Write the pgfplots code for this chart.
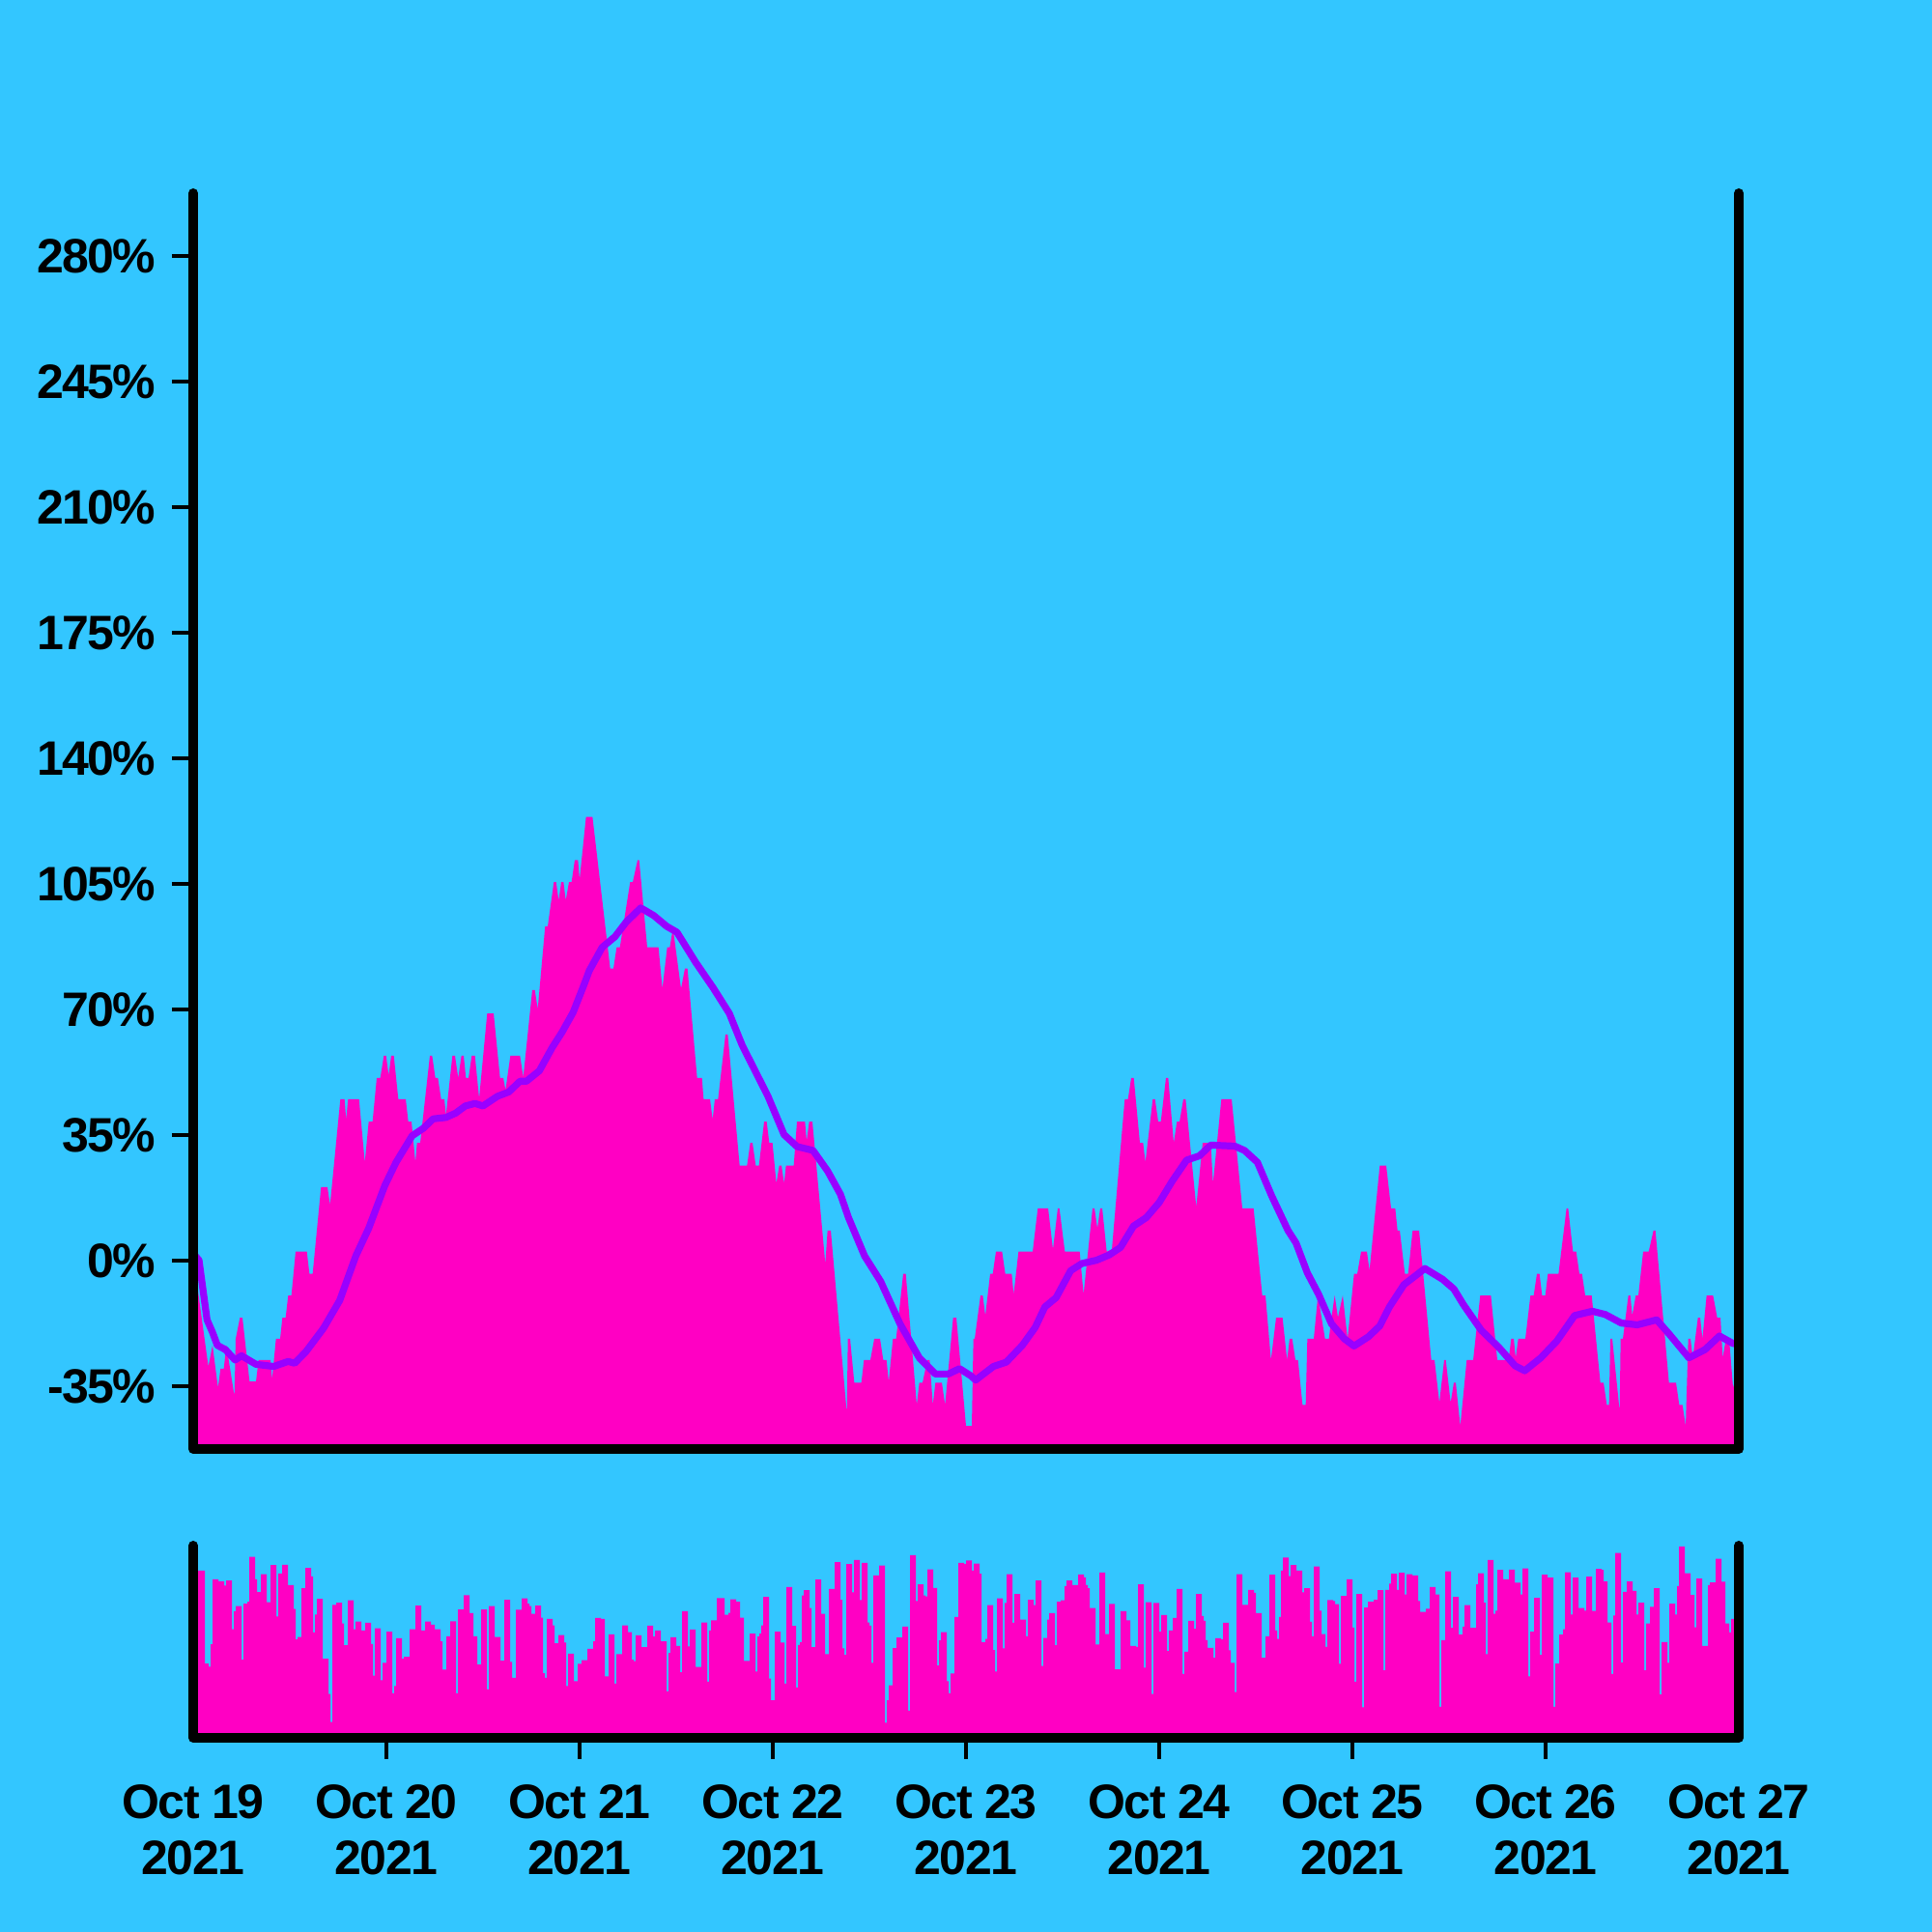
\documentclass[border=0pt]{standalone}
\usepackage{fontspec}
\setmainfont{Liberation Sans}[LetterSpace=-3]
\usepackage{pgfplots}
\pgfplotsset{compat=1.18}

\definecolor{bg}{RGB}{51,198,255}
\definecolor{mag}{RGB}{255,0,195}
\definecolor{vio}{RGB}{153,0,255}

\pgfplotsset{
  panel/.style={
    anchor=south west, scale only axis, width=400pt,
    xmin=0, xmax=192,
    axis line style={draw=none},
    clip mode=individual,
    tick align=outside,
    major tick length=5.5pt,
    tick style={line width=1pt, black},
    ticklabel style={font=\fontsize{12.5}{14.5}\selectfont\bfseries},
  },
}
\tikzset{frame/.style={line width=2.5pt, black, line cap=round, line join=round}}

\begin{document}
\begin{tikzpicture}[x=1pt,y=1pt]
\path[use as bounding box] (0,0) rectangle (500,500);
\fill[bg] (0,0) rectangle (500,500);

% price change, percent
\begin{axis}[panel, at={(50pt,125pt)}, height=325pt,
    ymin=-52.5, ymax=297.5,
    xtick=\empty, ytick pos=left,
    ytick={-35,0,35,70,105,140,175,210,245,280},
    yticklabels={-35\%,0\%,35\%,70\%,105\%,140\%,175\%,210\%,245\%,280\%},
    yticklabel style={xshift=-0.6pt}]
\addplot[fill=mag, draw=none] coordinates {
(0,-60) (0,1) (0.72,-10.5) (1.88,-29.5) (2.4,-23.6) (3.08,-35.4) (3.4,-30.1) (3.8,-30.1) (4.12,-23.6) (5.12,-37.8) (5.28,-21.8) (5.8,-15.9) (6.12,-15.9) (7.0,-33.7) (7.8,-33.7) (8.12,-27.7) (9.6,-27.7) (9.8,-33.1) (10.28,-21.8) (10.8,-21.8) (11.08,-15.9) (11.48,-15.9) (11.8,-9.7) (12.2,-9.7) (12.72,2.5) (14.12,2.5) (14.44,-3.7) (14.84,-3.7) (15.88,20.5) (16.68,20.5) (17.0,15.5) (18.28,45) (18.8,45) (19.0,39.3) (19.24,45) (20.6,45) (21.32,27.4) (21.8,38.7) (22.28,38.7) (22.8,50.9) (23.24,50.9) (23.68,57.1) (23.96,57.1) (24.28,51.7) (24.6,57.1) (24.92,57.1) (25.48,45) (26.4,45) (26.72,38.7) (27.12,38.7) (27.6,27.4) (27.8,32.8) (28.2,32.8) (29.4,57.1) (29.68,57.1) (30.08,50.9) (30.4,50.9) (30.8,45) (31.2,45) (31.4,40.5) (32.2,57.1) (32.52,57.1) (32.92,50.9) (33.32,57.1) (33.6,57.1) (33.88,50.9) (34.2,50.9) (34.6,57.1) (35.0,57.1) (35.52,45.2) (36.52,68.9) (37.32,68.9) (38.12,50.9) (38.52,50.9) (38.8,47.6) (39.4,57.1) (40.6,57.1) (41.0,51.1) (42.12,75.4) (42.44,75.4) (42.8,70.1) (43.72,93.2) (44.04,93.2) (44.8,105.5) (45.08,105.5) (45.4,100.4) (45.72,105.5) (46.0,105.5) (46.28,100.4) (46.68,105.5) (47.0,105.5) (47.4,111.6) (47.8,111.6) (48.0,106.3) (48.8,123.7) (49.6,123.7) (51.8,81.4) (52.2,81.4) (52.6,87.3) (53.0,87.3) (54.28,105.5) (54.6,105.5) (55.2,111.6) (55.4,111.6) (56.4,87.3) (57.8,87.3) (58.28,75.8) (58.88,87.3) (59.2,87.3) (59.6,92.6) (60.6,75.8) (61.08,81.4) (61.4,81.4) (62.6,50.9) (63.2,50.9) (63.4,45) (64.2,45) (64.52,39.3) (64.8,45) (65.2,45) (66.12,63) (66.4,63) (67.88,26.5) (68.8,26.5) (69.2,32.8) (69.48,32.8) (69.88,26.5) (70.28,26.5) (70.92,38.7) (71.24,38.7) (71.56,32.8) (71.96,32.8) (72.44,21.5) (72.8,26.5) (73.08,26.5) (73.4,21.5) (73.64,26.5) (74.6,26.5) (75.0,38.7) (76.0,38.7) (76.2,33.4) (76.52,38.7) (76.92,38.7) (78.52,-0.9) (78.8,8.4) (79.2,8.4) (81.2,-42.6) (81.32,-21.8) (81.6,-21.8) (82.12,-34) (83.0,-34) (83.32,-27.7) (84.12,-27.7) (84.6,-21.8) (85.32,-21.8) (85.72,-27.7) (86.12,-27.7) (86.4,-33.7) (86.92,-21.8) (87.32,-21.8) (88.2,-3.7) (88.52,-3.7) (89.88,-40.2) (90.2,-34) (90.6,-34) (91.2,-27.7) (91.48,-27.7) (91.88,-40.2) (92.2,-34) (93.0,-34) (93.4,-40.2) (94.4,-15.9) (94.8,-15.9) (96.0,-46.1) (96.72,-46.1) (96.92,-21.8) (97.08,-21.8) (97.8,-9.7) (98.08,-9.7) (98.4,-15.3) (99.0,-3.7) (99.32,-3.7) (99.72,2.5) (100.48,2.5) (100.88,-3.7) (101.68,-3.7) (101.92,-9.4) (102.52,2.5) (104.28,2.5) (104.92,14.6) (106.2,14.6) (106.8,3.1) (107.4,14.6) (107.6,14.6) (108.28,2.5) (110.12,2.5) (110.6,-9.4) (111.72,14.6) (111.96,14.6) (112.32,9.0) (112.68,14.6) (112.92,14.6) (113.48,2.5) (114.12,3.1) (115.72,45) (116.12,45) (116.52,50.9) (116.84,50.9) (117.6,32.8) (118.0,32.8) (118.28,27.4) (119.2,45) (119.48,45) (119.88,38.7) (120.2,38.7) (120.84,50.9) (121.12,50.9) (121.8,32.8) (122.2,38.7) (122.52,38.7) (123.0,45) (123.28,45) (124.6,15) (125.4,32.8) (126.4,32.8) (126.68,21.5) (127.72,45) (129.0,45) (130.32,14.6) (131.72,14.6) (132.8,-9.7) (133.2,-9.7) (133.88,-27.7) (134.52,-15.9) (135.32,-15.9) (135.88,-27.7) (136.2,-21.8) (136.52,-21.8) (136.92,-27.7) (137.24,-27.7) (137.8,-40.2) (138.2,-40.2) (138.4,-21.8) (139.2,-21.8) (139.72,-9.7) (140.6,-21.8) (141.08,-21.8) (141.4,-15.9) (141.8,-9.7) (142.2,-15.9) (142.8,-9.7) (143.4,-21.8) (144.2,-3.7) (144.6,-3.7) (145.08,2.5) (145.8,2.5) (146.12,-2.8) (147.4,26.5) (148.2,26.5) (148.8,14.6) (149.32,14.6) (149.6,8.4) (149.88,8.4) (150.52,-3.7) (150.92,-3.7) (151.48,8.4) (152.28,8.4) (153.8,-27.7) (154.2,-27.7) (154.8,-39.6) (155.4,-27.7) (155.6,-27.7) (156.2,-39.6) (156.6,-34) (156.84,-34) (157.4,-46.1) (158.2,-27.7) (159.0,-27.7) (159.88,-9.7) (161.2,-9.7) (162.0,-27.7) (163.4,-27.7) (163.72,-21.8) (164.04,-21.8) (164.28,-27.1) (164.6,-21.8) (165.48,-21.8) (166.12,-9.7) (166.52,-9.7) (166.92,-3.7) (167.24,-3.7) (167.56,-9.7) (167.96,-9.7) (168.28,-3.7) (169.6,-3.7) (170.6,14.6) (170.8,14.6) (171.4,2.5) (171.8,2.5) (172.2,-3.7) (172.52,-3.7) (172.92,-9.7) (173.72,-9.7) (174.8,-34) (175.2,-34) (175.6,-40.2) (175.88,-40.2) (176.04,-21.8) (176.28,-21.8) (177.2,-42) (177.32,-21.8) (177.6,-21.8) (178.28,-9.7) (178.52,-9.7) (178.76,-15.3) (179.2,-9.7) (179.52,-9.7) (180.12,2.5) (180.8,2.5) (181.4,8.4) (181.64,8.4) (183.32,-34) (184.2,-34) (184.6,-40.2) (185.0,-40.2) (185.4,-46.1) (185.72,-21.8) (186.0,-21.8) (186.28,-27.1) (186.92,-15.9) (187.2,-15.9) (187.48,-21.8) (188.0,-9.7) (188.8,-9.7) (189.32,-15.9) (189.72,-15.9) (190.0,-27.1) (190.4,-21.8) (190.8,-21.8) (191.28,-35.4) (192,-30) (192,-60)
};
% moving average
\addplot[vio, line width=1.8pt, line join=round, line cap=round] coordinates {
(0,2) (0.72,0.1) (1.72,-16.5) (2.4,-20.0) (3.0,-23.6) (4.0,-24.8) (5.2,-27.7) (6.0,-26.5) (7.8,-28.9) (10.0,-29.5) (11.8,-28.1) (12.6,-28.6) (14.0,-25.4) (16.2,-18.8) (18.2,-11.1) (20.2,1.3) (21.8,9.0) (23.8,20.9) (25.2,27.4) (27.2,34.8) (28.6,36.9) (29.8,39.5) (31.4,39.9) (32.6,41.1) (33.8,43.1) (35.0,43.8) (36.0,43.1) (37.8,45.8) (39.2,47.0) (40.6,50.0) (41.4,50.0) (43.0,52.9) (44.6,59.4) (45.8,63.6) (47.2,69.2) (48.6,77.2) (49.2,80.8) (50.8,87.3) (52.4,90.3) (53.8,94.4) (55.6,98.3) (57.2,96.2) (58.8,93.2) (60.1,91.5) (62.4,83.2) (64.6,76.0) (66.6,68.9) (68.2,60.0) (71.4,45.8) (73.4,35.1) (75.0,31.8) (77.0,30.7) (78.8,25.0) (80.4,18.5) (81.4,12.0) (83.4,1.3) (85.4,-5.8) (87.8,-17.6) (90.2,-27.1) (92.2,-31.6) (93.8,-31.6) (95.2,-30.1) (96.6,-32.1) (97.2,-33.3) (99.4,-29.5) (101.0,-28.3) (103.0,-23.6) (104.6,-18.6) (105.8,-12.9) (107.2,-10.3) (109.0,-2.8) (110.4,-0.8) (112.2,0.1) (113.8,1.6) (115.2,3.7) (116.8,9.6) (118.4,12.0) (120.0,16.2) (121.6,22.1) (123.4,28.0) (125.0,29.2) (126.4,32.2) (129.4,31.9) (130.6,30.7) (132.2,27.4) (134.0,17.9) (136.0,8.4) (137.0,4.9) (138.4,-3.4) (139.8,-9.4) (141.4,-17.6) (143.0,-21.8) (144.2,-23.8) (146.0,-21.2) (147.4,-18.2) (148.6,-12.9) (150.4,-6.7) (153.0,-2.2) (155.2,-5.2) (156.6,-7.9) (157.8,-12.3) (160.0,-19.4) (162.2,-24.2) (164.2,-29.3) (165.4,-30.7) (167.4,-27.1) (169.4,-22.4) (171.6,-15.3) (173.8,-14.1) (175.4,-15.0) (177.4,-17.4) (179.4,-17.9) (181.8,-16.5) (183.4,-20.6) (185.8,-27.1) (187.8,-24.8) (189.6,-21.0) (191.2,-23.0) (192,-23.5)
};
\draw[frame] (rel axis cs:0,1) -- (rel axis cs:0,0) -- (rel axis cs:1,0) -- (rel axis cs:1,1);
\end{axis}

% volume
\begin{axis}[panel, at={(50pt,50.25pt)}, height=49.75pt,
    ymin=0, ymax=600,
    ytick=\empty, xtick pos=bottom,
    xtick={24,48,...,168},
    xticklabels={{Oct 20\\2021},{Oct 21\\2021},{Oct 22\\2021},{Oct 23\\2021},{Oct 24\\2021},{Oct 25\\2021},{Oct 26\\2021}},
    extra x ticks={0,192},
    extra x tick labels={{Oct 19\\2021},{Oct 27\\2021}},
    extra x tick style={tick style={draw=none}},
    xticklabel style={align=center, yshift=-3pt}]
\addplot[fill=mag, draw=none, const plot] coordinates {
(0,0) (0,522) (1.44,232) (1.92,222) (2.16,292) (2.4,495) (3.12,489) (3.84,475) (4.08,491) (4.8,339) (5.04,395) (5.28,411) (6.0,244) (6.24,419) (6.72,425) (6.96,565) (7.68,495) (7.92,455) (8.4,511) (9.12,423) (9.6,539) (10.32,379) (10.56,513) (11.04,540) (11.76,477) (12.48,402) (12.72,307) (12.96,315) (13.44,467) (13.92,530) (14.64,504) (14.88,329) (15.12,385) (15.36,434) (16.08,247) (16.8,137) (17.04,49) (17.28,415) (17.76,422) (18.48,357) (18.72,289) (19.2,429) (19.92,339) (20.16,363) (20.88,335) (21.36,359) (22.08,293) (22.32,194) (22.56,342) (23.28,180) (23.52,234) (24.0,331) (24.72,139) (24.96,162) (25.2,311) (25.92,247) (26.16,253) (26.88,339) (27.6,413) (28.32,335) (28.8,363) (29.52,353) (30.0,339) (30.72,301) (30.96,213) (31.44,317) (31.92,364) (32.64,139) (32.88,401) (33.6,445) (34.32,389) (34.8,317) (35.28,229) (35.76,401) (36.48,151) (36.72,411) (37.44,315) (38.16,241) (38.64,431) (39.36,237) (39.6,187) (40.08,400) (40.8,435) (41.52,419) (41.76,411) (42.0,387) (42.48,413) (43.2,375) (43.44,202) (43.68,187) (43.92,371) (44.64,351) (44.88,295) (45.36,321) (46.08,297) (46.32,162) (46.56,263) (47.28,177) (47.76,231)
(48.0,231) (48.24,242) (48.96,278) (49.68,301) (49.92,374) (50.64,371) (51.12,192) (51.6,323) (52.32,169) (52.56,261) (53.28,351) (54.0,330) (54.48,244) (54.72,239) (54.96,320) (55.68,283) (56.4,350) (57.12,316) (57.36,335) (58.08,301) (58.8,145) (59.04,265) (59.28,314) (60.0,287) (60.48,205) (60.72,395) (61.44,285) (61.68,338) (62.4,221) (63.12,360) (63.84,175) (64.08,335) (64.32,367) (65.04,436) (66.0,384) (66.48,390) (66.72,432) (67.44,425) (67.92,375) (68.4,240) (69.12,325) (69.84,207) (70.08,316) (70.32,325) (70.56,351) (70.8,440) (71.52,185) (71.76,117) (72.24,331) (72.96,297) (73.44,169) (73.68,471) (74.4,349) (74.88,157) (75.12,290) (75.36,299) (75.6,444) (75.84,461) (76.56,405) (76.8,283) (77.28,494) (78.0,387) (78.48,261) (78.96,465) (79.68,548) (80.4,431) (80.64,279) (80.88,259) (81.12,542) (81.84,454) (82.08,555) (82.8,430) (83.04,546) (83.76,360) (84.0,350) (84.24,234) (84.48,507) (85.2,538) (85.92,47) (86.16,117) (86.4,164) (86.88,280) (87.36,313) (88.08,347) (88.8,85) (89.04,570) (89.76,427) (90.0,479) (90.72,444) (90.96,441) (91.2,526) (91.92,468) (92.4,226) (92.64,304) (92.88,330) (93.6,177) (93.84,139) (94.08,201) (94.56,377) (95.04,546) (95.76,542)
(96.0,554) (96.72,522) (96.96,544) (97.68,512) (97.92,299) (98.4,309) (98.64,414) (99.36,274) (99.6,207) (99.84,435) (100.56,279) (100.8,421) (101.04,511) (101.76,359) (102.0,449) (102.72,369) (103.44,317) (103.68,431) (104.4,414) (104.64,491) (105.36,224) (105.6,312) (106.08,369) (106.32,389) (107.04,289) (107.28,425) (107.76,429) (108.24,474) (108.48,491) (109.2,477) (109.92,510) (110.64,501) (110.88,477) (111.12,467) (111.36,405) (112.08,291) (112.56,516) (113.28,324) (113.76,418) (114.48,214) (115.2,395) (115.92,367) (116.4,287) (117.12,284) (117.36,479) (118.08,219) (118.32,423) (119.04,137) (119.28,421) (120.0,331) (120.24,383) (120.96,271) (121.2,335) (121.68,374) (122.16,465) (122.88,199) (123.12,269) (123.6,365) (124.32,340) (124.56,449) (125.28,380) (125.52,365) (125.76,305) (126.0,281) (126.72,250) (126.96,311) (127.68,307) (127.92,359) (128.64,273) (128.88,234) (129.36,143) (129.6,511) (130.32,415) (131.04,462) (131.76,453) (132.0,389) (132.72,250) (133.2,317) (133.68,509) (134.4,335) (134.64,309) (134.88,377) (135.12,522) (135.36,563) (136.08,505) (136.32,539) (137.04,522) (137.76,454) (138.0,467) (138.72,362) (138.96,317) (139.2,535) (139.92,397) (140.16,324) (140.64,284) (140.88,430) (141.6,427) (141.84,417) (142.32,231) (142.56,443) (143.28,495)
(144.0,344) (144.24,175) (144.48,449) (145.2,95) (145.44,407) (145.92,425) (146.64,431) (147.12,461) (147.84,211) (148.08,462) (148.56,481) (148.8,512) (149.52,462) (149.76,515) (150.48,447) (150.72,511) (151.44,507) (152.16,427) (152.4,393) (153.12,403) (153.6,471) (154.32,447) (154.8,97) (155.04,305) (155.52,520) (156.24,343) (156.48,440) (157.2,322) (157.68,347) (157.92,414) (158.64,343) (159.36,479) (159.6,514) (160.32,422) (160.56,261) (160.8,555) (161.52,387) (161.76,397) (162.0,524) (162.72,495) (163.44,525) (164.16,484) (164.88,447) (165.12,529) (165.84,192) (166.08,331) (166.56,437) (167.28,259) (167.52,509) (168.24,500) (168.96,97) (169.2,232) (169.68,322) (170.16,339) (170.4,517) (171.12,385) (171.36,500) (172.08,405) (172.8,397) (173.04,503) (173.76,396) (174.24,527) (174.96,524) (175.2,488) (175.68,360) (176.16,199) (176.4,382) (176.64,577) (177.36,235) (177.6,456) (178.08,488) (178.8,459) (179.28,385) (179.52,422) (180.24,211) (180.48,357) (180.96,409) (181.44,467) (182.16,135) (182.4,299) (183.12,234) (183.36,419) (184.08,385) (184.32,474) (184.56,597) (185.28,514) (186.0,446) (186.48,345) (186.72,497) (187.44,287) (188.16,477) (188.4,485) (189.12,559) (189.84,487) (190.32,357) (190.8,329) (191.04,371) (192,371) (192,0)
};
\draw[frame] (rel axis cs:0,1) -- (rel axis cs:0,0) -- (rel axis cs:1,0) -- (rel axis cs:1,1);
\end{axis}
\end{tikzpicture}
\end{document}
